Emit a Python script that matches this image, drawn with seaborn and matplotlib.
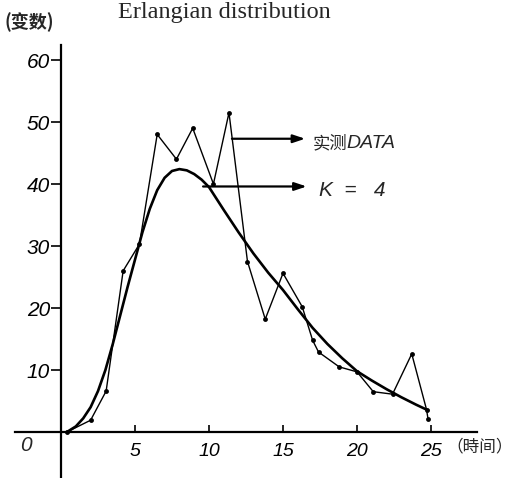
import matplotlib
matplotlib.use("Agg")
import matplotlib.pyplot as plt
import seaborn as sns
import pandas as pd

# ---- data ----
data_x = [0.4, 2.0, 3.05, 4.2, 5.3, 6.5, 7.8, 8.9, 10.3, 11.35, 12.6, 13.8,
          15.0, 16.3, 17.0, 17.4, 18.8, 20.0, 21.1, 22.4, 23.7, 24.7, 24.8]
data_y = [0.0, 1.9, 6.6, 26.0, 30.3, 48.0, 44.0, 49.0, 40.0, 51.5, 27.5, 18.2,
          25.6, 20.2, 14.8, 12.9, 10.5, 9.7, 6.5, 6.1, 12.6, 3.6, 2.1]

curve_x = [0.4, 1, 1.5, 2, 2.5, 3, 3.5, 4, 4.5, 5, 5.5, 6, 6.5, 7, 7.5, 8,
           8.5, 9, 9.5, 10, 11, 12, 13, 14, 15, 16, 17, 18, 19, 20, 21, 22,
           23, 24, 24.8]
curve_y = [0.0, 0.9, 2.2, 4.0, 6.6, 10.0, 14.2, 18.8, 23.4, 27.8, 32.2, 36.0,
           39.0, 41.0, 42.1, 42.4, 42.2, 41.6, 40.7, 39.5, 35.8, 32.2, 28.8,
           25.7, 22.9, 19.8, 16.8, 14.2, 11.9, 9.8, 8.3, 6.9, 5.6, 4.4, 3.5]

x_ticks = [5, 10, 15, 20, 25]
y_ticks = [10, 20, 30, 40, 50, 60]

title = "Erlangian distribution"
y_label = "(变数)"
x_label = "（時间）"
label_data_cjk = "实测"
label_data_lat = "DATA"
label_curve = "K  =   4"

sns.set_theme(style="white")
plt.rcParams['font.family'] = ['Liberation Sans', 'Noto Sans CJK SC', 'DejaVu Sans']

fig = plt.figure(figsize=(5.27, 4.78), dpi=100)
ax = fig.add_axes([0, 0, 1, 1])

df_data = pd.DataFrame({"x": data_x, "y": data_y})
df_curve = pd.DataFrame({"x": curve_x, "y": curve_y})

sns.lineplot(data=df_data, x="x", y="y", ax=ax, color="black", linewidth=1.0,
             sort=False, estimator=None, marker="o", markersize=3.5,
             markeredgewidth=0)
sns.lineplot(data=df_curve, x="x", y="y", ax=ax, color="black", linewidth=1.9,
             sort=False, estimator=None)

# pixel -> data mapping: x0 at px 61, 14.8 px/unit; y0 at px 432, 6.2 px/unit
ax.set_xlim(-61 / 14.8, (527 - 61) / 14.8)
ax.set_ylim(-(478 - 432) / 6.2, 432 / 6.2)

for s in ["top", "right"]:
    ax.spines[s].set_visible(False)
ax.spines["left"].set_position(("data", 0))
ax.spines["bottom"].set_position(("data", 0))
ax.spines["left"].set_bounds(-7.5, 62.5)
ax.spines["bottom"].set_bounds(-3.1, 28.1)
for s in ["left", "bottom"]:
    ax.spines[s].set_color("black")
    ax.spines[s].set_linewidth(1.6)

ax.set_xticks(x_ticks)
ax.set_yticks(y_ticks)
ax.set_xticklabels([str(t) for t in x_ticks])
ax.set_yticklabels([str(t) for t in y_ticks])
ax.tick_params(axis="y", direction="out", length=7, width=1.2, pad=1,
               labelsize=15, colors="black", left=True)
ax.tick_params(axis="x", direction="in", length=5, width=1.2, pad=8,
               labelsize=14, colors="black", bottom=True)
for lbl in ax.get_xticklabels() + ax.get_yticklabels():
    lbl.set_style("italic")
ax.set_xlabel("")
ax.set_ylabel("")
ax.grid(False)

# origin label
ax.text(-2.4, -2.1, "0", fontsize=15, style="italic", ha="center", va="center")

# axis labels
fig.text(4 / 527, 1 - 22 / 478, y_label, fontsize=13, fontweight="bold",
         family=["Noto Sans CJK SC", "DejaVu Sans"], ha="left", va="center")
fig.text(446 / 527, 1 - 447 / 478, x_label, fontsize=12,
         family=["Noto Sans CJK SC", "DejaVu Sans"], ha="left", va="center")

# title
fig.text(118 / 527, 1 - 2 / 478, title, fontsize=17.5,
         family=["Liberation Serif", "DejaVu Serif"], ha="left", va="top")

# annotation arrows
arrow = dict(arrowstyle="-|>,head_length=0.6,head_width=0.2", color="black",
             lw=1.6, shrinkA=0, shrinkB=0)
ax.annotate("", xy=(16.5, 47.3), xytext=(11.55, 47.3), arrowprops=arrow)
ax.annotate("", xy=(16.6, 39.6), xytext=(9.6, 39.6), arrowprops=arrow)

ax.text(17.0, 46.6, label_data_cjk, fontsize=12.5,
        family=["Noto Sans CJK SC", "DejaVu Sans"], ha="left", va="center")
ax.text(19.3, 46.6, label_data_lat, fontsize=14, style="italic",
        ha="left", va="center")
ax.text(17.4, 39.0, label_curve, fontsize=15, style="italic",
        ha="left", va="center")

fig.savefig("out.png", dpi=100)
